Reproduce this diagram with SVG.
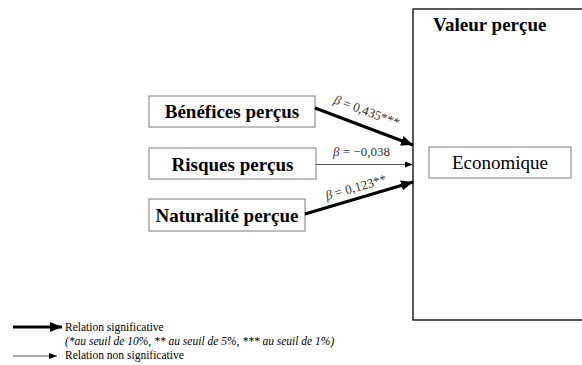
<svg xmlns="http://www.w3.org/2000/svg" width="582" height="365" viewBox="0 0 582 365">
<style>
.node{fill:#fff;stroke:#7f7f7f;stroke-width:1}
.lbl{font-family:"Liberation Serif","Times New Roman",serif;font-weight:bold;font-size:19px;fill:#000;text-anchor:middle}
.eco{font-family:"Liberation Serif","Times New Roman",serif;font-size:19px;fill:#000;text-anchor:middle}
.beta{font-family:"Liberation Serif","Times New Roman",serif;font-size:13px;fill:#333}
.leg{font-family:"Liberation Serif","Times New Roman",serif;font-size:11.5px;fill:#000}
.thick{stroke:#000;stroke-width:3;fill:none}
.thin{stroke:#555;stroke-width:1;fill:none}
</style>
<defs>
<marker id="hThick" markerUnits="userSpaceOnUse" markerWidth="12" markerHeight="10" refX="12" refY="5" orient="auto">
<path d="M0,0 L12,5 L0,10 Z" fill="#000"/>
</marker>
<marker id="hThin" markerUnits="userSpaceOnUse" markerWidth="8" markerHeight="6" refX="8" refY="3" orient="auto">
<path d="M0,0 L8,3 L0,6 Z" fill="#000"/>
</marker>
</defs>
<rect width="582" height="365" fill="#fff"/>
<g id="valeur">
<rect x="413" y="9" width="180" height="311" fill="#fff" stroke="#000" stroke-width="1.3"/>
<text x="433" y="31" style="font-family:'Liberation Serif','Times New Roman',serif;font-weight:bold;font-size:19px">Valeur perçue</text>
</g>
<g id="economique">
<rect class="node" x="429" y="147" width="142" height="31"/>
<text class="eco" x="500" y="169">Economique</text>
</g>
<g id="benefices">
<rect class="node" x="149" y="96" width="166" height="31"/>
<text class="lbl" x="232" y="118">Bénéfices perçus</text>
</g>
<g id="risques">
<rect class="node" x="149" y="148" width="167" height="31"/>
<text class="lbl" x="232.5" y="171">Risques perçus</text>
</g>
<g id="naturalite">
<rect class="node" x="149" y="199" width="156" height="32"/>
<text class="lbl" x="227" y="222">Naturalité perçue</text>
</g>
<g id="connectors">
<line class="thick" x1="315" y1="108" x2="413" y2="145" marker-end="url(#hThick)"/>
<line class="thin" x1="316" y1="164.5" x2="413" y2="164.5" marker-end="url(#hThin)"/>
<line class="thick" x1="305" y1="214" x2="413" y2="182" marker-end="url(#hThick)"/>
<text class="beta" transform="translate(333,103) rotate(20.7)"><tspan font-style="italic">β</tspan> = 0,435***</text>
<text class="beta" x="333" y="156"><tspan font-style="italic">β</tspan> = −0,038</text>
<text class="beta" transform="translate(327,200) rotate(-16)"><tspan font-style="italic">β</tspan> = 0,123**</text>
</g>
<g id="legende">
<line class="thick" x1="13" y1="327" x2="62" y2="327" marker-end="url(#hThick)"/>
<line class="thin" x1="13" y1="356" x2="57" y2="356" marker-end="url(#hThin)"/>
<text class="leg" x="65" y="331">Relation significative</text>
<text class="leg" x="65" y="345" font-style="italic">(*au seuil de 10%, ** au seuil de 5%, *** au seuil de 1%)</text>
<text class="leg" x="65" y="359">Relation non significative</text>
</g>
</svg>
